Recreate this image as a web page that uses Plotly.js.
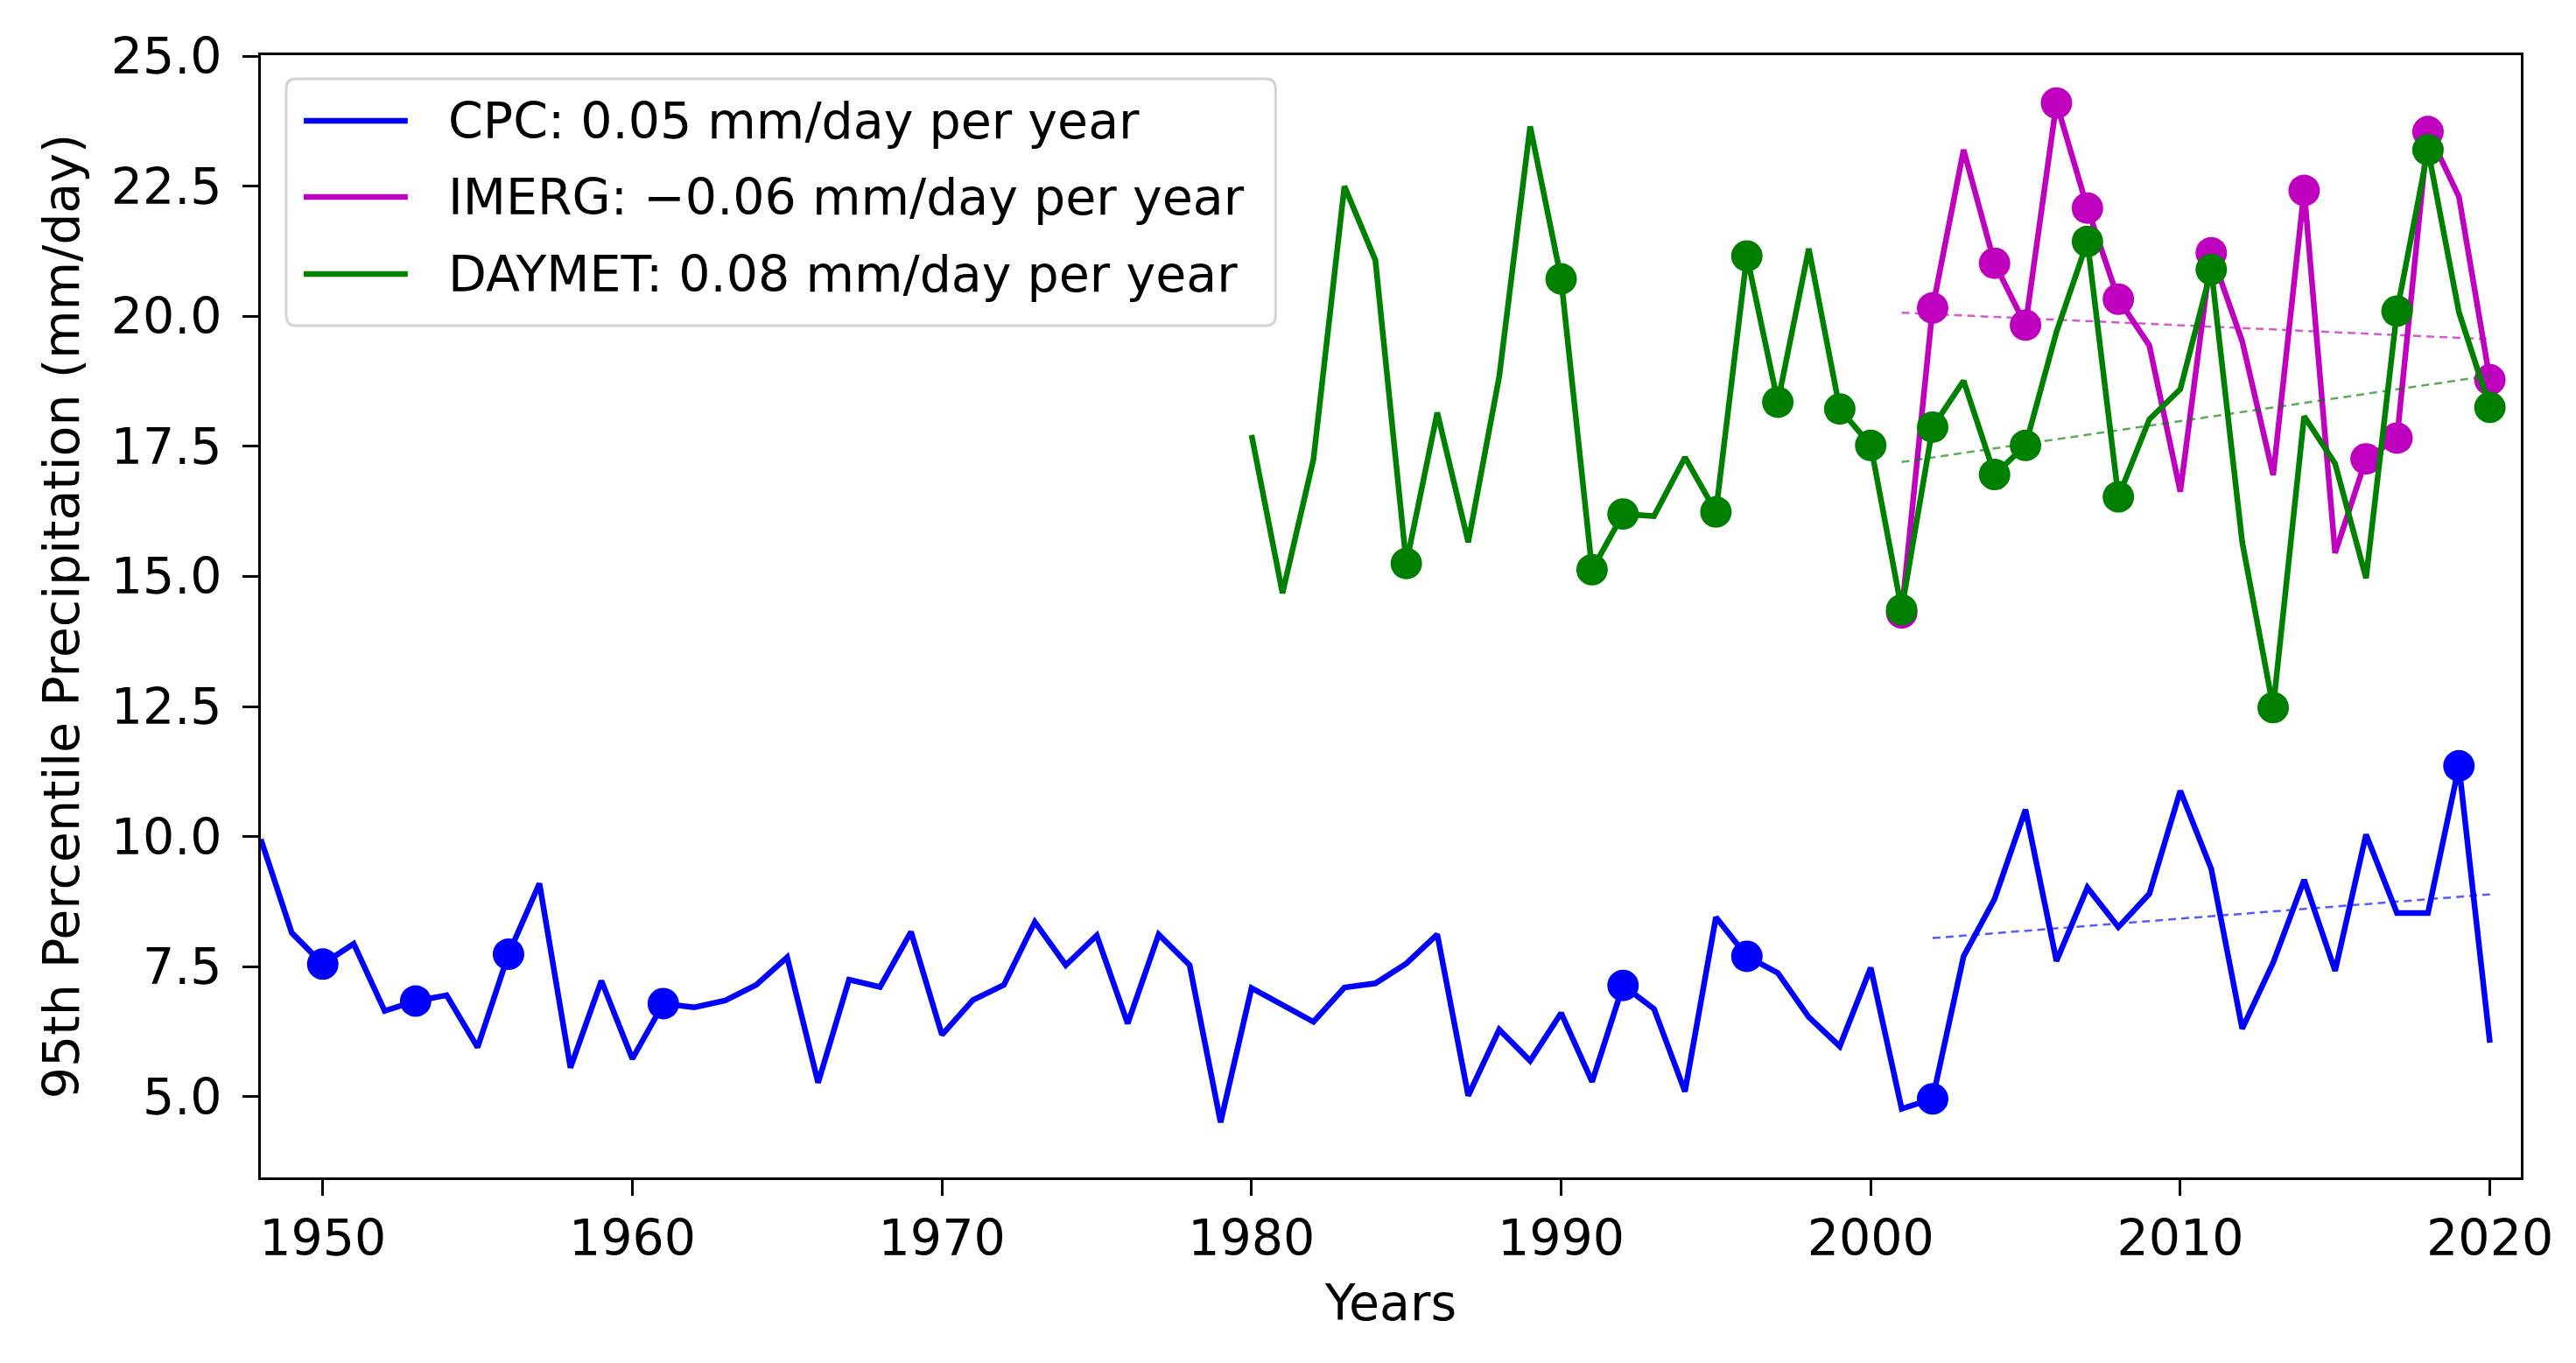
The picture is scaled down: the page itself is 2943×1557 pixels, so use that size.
<!DOCTYPE html>
<html><head><meta charset="utf-8">
<script src="https://cdn.plot.ly/plotly-3.0.1.min.js"></script>
<style>html,body{margin:0;padding:0;background:#fff}#chart{width:2943px;height:1557px}</style>
</head><body><div id="chart"></div>
<script>
// ---- data ----
const cpcStartYear = 1948;
const cpcValues = [9.95, 8.15, 7.55, 7.94, 6.65, 6.84, 6.95, 5.95, 7.74, 9.1,
  5.56, 7.23, 5.73, 6.79, 6.72, 6.85, 7.15, 7.68, 5.27, 7.25,
  7.11, 8.17, 6.19, 6.86, 7.15, 8.36, 7.53, 8.1, 6.41, 8.12,
  7.53, 4.51, 7.09, 6.78, 6.44, 7.1, 7.18, 7.56, 8.12, 5.02,
  6.29, 5.69, 6.61, 5.29, 7.14, 6.69, 5.1, 8.45, 7.7, 7.38,
  6.53, 5.97, 7.48, 4.77, 4.96, 7.7, 8.8, 10.52, 7.61, 9.02,
  8.26, 8.9, 10.88, 9.38, 6.31, 7.58, 9.17, 7.42, 10.04, 8.53,
  8.53, 11.36, 6.04];
const imergStartYear = 2001;
const imergValues = [14.3, 20.16, 23.2, 21.02, 19.83, 24.1, 22.08, 20.33, 19.44, 16.63,
  21.22, 19.52, 16.95, 22.42, 15.45, 17.26, 17.66, 23.55, 22.3, 18.78];
const daymetStartYear = 1980;
const daymetValues = [17.72, 14.68, 17.25, 22.5, 21.08, 15.25, 18.15, 15.66, 18.84, 23.65,
  20.72, 15.13, 16.2, 16.16, 17.29, 16.24, 21.16, 18.35, 21.3, 18.22,
  17.52, 14.36, 17.87, 18.76, 16.96, 17.52, 19.7, 21.44, 16.53, 18.02,
  18.6, 20.9, 15.66, 12.48, 18.08, 17.17, 14.97, 20.1, 23.2, 20.08, 18.25];

const cpcDotYears = [1950, 1953, 1956, 1961, 1992, 1996, 2002, 2019];
const imergDotYears = [2001, 2002, 2004, 2005, 2006, 2007, 2008, 2011, 2014, 2016, 2017, 2018, 2020];
const daymetDotYears = [1985, 1990, 1991, 1992, 1995, 1996, 1997, 1999, 2000, 2001, 2002, 2004,
  2005, 2007, 2008, 2011, 2013, 2017, 2018, 2020];

const cpcTrendYears = [2002, 2020];
const cpcTrendValues = [8.05, 8.89];
const imergTrendYears = [2001, 2020];
const imergTrendValues = [20.07, 19.56];
const daymetTrendYears = [2001, 2020];
const daymetTrendValues = [17.2, 18.86];

const legendLabels = ['CPC: 0.05 mm/day per year', 'IMERG: \u22120.06 mm/day per year', 'DAYMET: 0.08 mm/day per year'];
const xTickYears = [1950, 1960, 1970, 1980, 1990, 2000, 2010, 2020];
const yTickValues = [5.0, 7.5, 10.0, 12.5, 15.0, 17.5, 20.0, 22.5, 25.0];

// ---- helpers ----
function yearsFrom(start, n) { const a = []; for (let i = 0; i < n; i++) a.push(start + i); return a; }
function pick(start, vals, yrs) { return yrs.map(y => vals[y - start]); }

const BLUE = '#0000ff', MAGENTA = '#bf00bf', GREEN = '#008000';
const FONT = 'DejaVu Sans, Verdana, sans-serif';
const FS = 57;
const LW = 6.5, MS = 36;

const series = [
  {start: cpcStartYear, vals: cpcValues, dots: cpcDotYears, color: BLUE, ty: cpcTrendYears, tv: cpcTrendValues},
  {start: imergStartYear, vals: imergValues, dots: imergDotYears, color: MAGENTA, ty: imergTrendYears, tv: imergTrendValues},
  {start: daymetStartYear, vals: daymetValues, dots: daymetDotYears, color: GREEN, ty: daymetTrendYears, tv: daymetTrendValues}
];

const traces = [];
series.forEach((s, i) => {
  traces.push({x: yearsFrom(s.start, s.vals.length), y: s.vals, type: 'scatter', mode: 'lines',
    line: {color: s.color, width: LW}, name: legendLabels[i], showlegend: false, hoverinfo: 'x+y'});
  traces.push({x: s.ty, y: s.tv, type: 'scatter', mode: 'lines',
    line: {color: s.color, width: 2.5, dash: '9px,6px'}, opacity: 0.65, showlegend: false, hoverinfo: 'skip'});
  traces.push({x: s.dots, y: pick(s.start, s.vals, s.dots), type: 'scatter', mode: 'markers',
    marker: {color: s.color, size: MS, line: {width: 0}}, showlegend: false, hoverinfo: 'x+y'});
});

// legend (matplotlib-style rounded box)
const lgX0 = 0.0112, lgX1 = 0.449, lgY0 = 0.759, lgY1 = 0.979;
const rx = 0.0045, ry = 0.009;
const boxPath = `M${lgX0 + rx},${lgY0} L${lgX1 - rx},${lgY0} Q${lgX1},${lgY0} ${lgX1},${lgY0 + ry} ` +
  `L${lgX1},${lgY1 - ry} Q${lgX1},${lgY1} ${lgX1 - rx},${lgY1} L${lgX0 + rx},${lgY1} ` +
  `Q${lgX0},${lgY1} ${lgX0},${lgY1 - ry} L${lgX0},${lgY0 + ry} Q${lgX0},${lgY0} ${lgX0 + rx},${lgY0} Z`;
const rowY = [0.9415, 0.8736, 0.805];
const colors = [BLUE, MAGENTA, GREEN];
const shapes = [{type: 'path', xref: 'paper', yref: 'paper', path: boxPath,
  line: {color: '#d4d4d4', width: 3}, fillcolor: 'rgba(255,255,255,0.8)', layer: 'above'}];
const annotations = [];
rowY.forEach((yy, i) => {
  shapes.push({type: 'line', xref: 'paper', yref: 'paper', x0: 0.0190, x1: 0.0650, y0: yy, y1: yy,
    line: {color: colors[i], width: LW}, layer: 'above'});
  annotations.push({xref: 'paper', yref: 'paper', x: 0.0821, y: yy, xanchor: 'left', yanchor: 'middle',
    text: legendLabels[i], showarrow: false, font: {family: FONT, size: FS, color: '#000'}});
});

const axisCommon = {
  showgrid: false, zeroline: false, showline: true, linecolor: '#000', linewidth: 3, mirror: true,
  ticks: 'outside', ticklen: 18, tickwidth: 3, tickcolor: '#000',
  tickfont: {family: FONT, size: FS, color: '#000'}
};

const layout = {
  width: 2943, height: 1557,
  margin: {l: 298, r: 63, t: 63, b: 212},
  paper_bgcolor: '#fff', plot_bgcolor: '#fff',
  showlegend: false,
  xaxis: Object.assign({}, axisCommon, {range: [1948, 2021], tickvals: xTickYears,
    ticktext: xTickYears.map(String), ticklabelstandoff: 0,
    title: {text: 'Years', font: {family: FONT, size: FS, color: '#000'}, standoff: 22}}),
  yaxis: Object.assign({}, axisCommon, {range: [3.45, 25.02], tickvals: yTickValues,
    ticktext: yTickValues.map(v => v.toFixed(1)), ticklabelstandoff: 12,
    title: {text: '95th Percentile Precipitation (mm/day)', font: {family: FONT, size: FS, color: '#000'}, standoff: 18}}),
  shapes: shapes,
  annotations: annotations,
  font: {family: FONT}
};

Plotly.newPlot('chart', traces, layout, {displayModeBar: false, staticPlot: true});
</script>
</body></html>
